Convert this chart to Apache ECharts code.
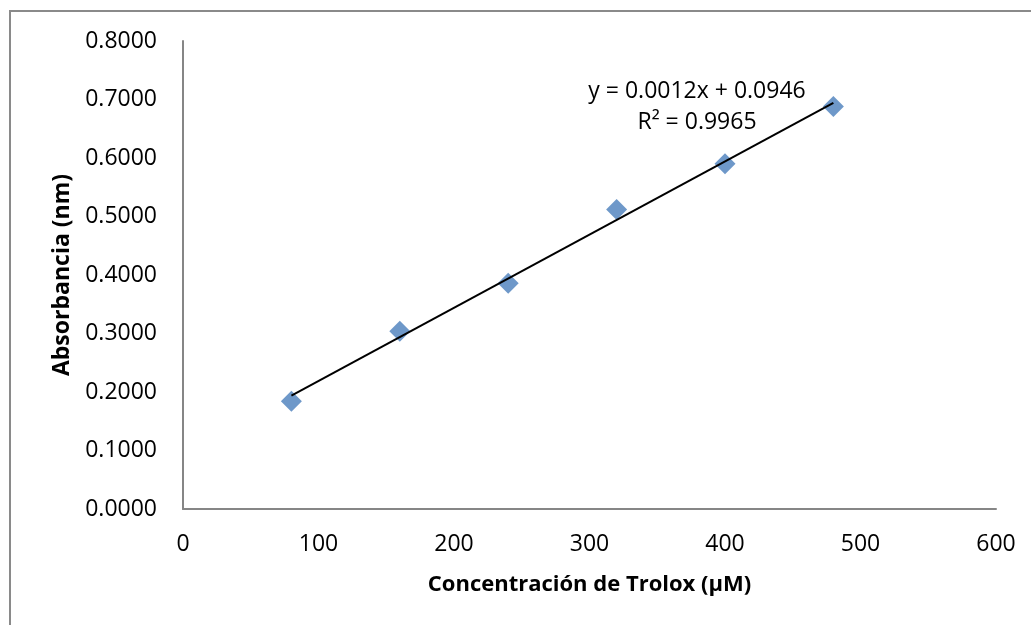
<!DOCTYPE html>
<html>
<head>
<meta charset="utf-8">
<script src="https://cdn.jsdelivr.net/npm/echarts@6/dist/echarts.min.js"></script>
<style>
html,body{margin:0;padding:0;background:#fff;}
#c{width:1031px;height:625px;}
</style>
</head>
<body>
<div id="c"></div>
<script>
// Data
const concentrations = [80, 160, 240, 320, 400, 480];
const absorbance = [0.184, 0.304, 0.386, 0.512, 0.590, 0.688];
const yTicks = ['0.0000','0.1000','0.2000','0.3000','0.4000','0.5000','0.6000','0.7000','0.8000'];
const equationText = 'y = 0.0012x + 0.0946';
const r2Text = 'R² = 0.9965';
const xTitle = 'Concentración de Trolox (µM)';
const yTitle = 'Absorbancia (nm)';

// Least-squares trendline from the data
const n = concentrations.length;
const mx = concentrations.reduce((a,b)=>a+b,0)/n;
const my = absorbance.reduce((a,b)=>a+b,0)/n;
let sxy = 0, sxx = 0;
for (let i=0;i<n;i++){ sxy += (concentrations[i]-mx)*(absorbance[i]-my); sxx += (concentrations[i]-mx)**2; }
const slope = sxy/sxx, intercept = my - slope*mx;
const xMin = Math.min(...concentrations), xMax = Math.max(...concentrations);
const trend = [[xMin, intercept+slope*xMin],[xMax, intercept+slope*xMax]];

const font = '"Open Sans", "Noto Sans", sans-serif';
const chart = echarts.init(document.getElementById('c'), null, {renderer:'canvas'});
chart.setOption({
  animation:false,
  backgroundColor:'#ffffff',
  grid:{left:183, top:41, right:35, bottom:116, containLabel:false},
  xAxis:{
    type:'value', min:0, max:600, interval:100,
    name:xTitle, nameLocation:'middle', nameGap:65,
    nameTextStyle:{fontFamily:font, fontWeight:'bold', fontSize:22, color:'#000'},
    axisLine:{show:true, onZero:false, lineStyle:{color:'#868686', width:2}},
    axisTick:{show:false},
    splitLine:{show:false},
    axisLabel:{fontFamily:font, fontSize:23, color:'#000', margin:24}
  },
  yAxis:{
    type:'value', min:0, max:0.8, interval:0.1,
    name:yTitle, nameLocation:'middle', nameGap:109, nameRotate:90,
    nameTextStyle:{fontFamily:font, fontWeight:'bold', fontSize:23, color:'#000'},
    axisLine:{show:true, lineStyle:{color:'#868686', width:2}},
    axisTick:{show:false},
    splitLine:{show:false},
    axisLabel:{fontFamily:font, fontSize:23, color:'#000', margin:26,
      formatter:(v)=>{ const i=Math.round(v*10); return yTicks[i]; }}
  },
  graphic:[
    {type:'rect', shape:{x:10, y:11, width:1100, height:700}, style:{fill:'none', stroke:'#8a8a8a', lineWidth:2}, z:-1},
    {type:'text', x:697, y:91, style:{text:equationText, font:'23px '+font, fill:'#000', textAlign:'center', textVerticalAlign:'middle'}},
    {type:'text', x:697, y:122, style:{text:r2Text, font:'23px '+font, fill:'#000', textAlign:'center', textVerticalAlign:'middle'}}
  ],
  series:[
    {type:'scatter', data:concentrations.map((x,i)=>[x,absorbance[i]]), symbol:'diamond', symbolSize:[21,21],
      itemStyle:{color:'#4a7ebb'}, z:2},
    {type:'line', data:trend, showSymbol:false, symbol:'none', lineStyle:{color:'#000', width:2}, z:3, silent:true}
  ]
});
</script>
</body>
</html>
